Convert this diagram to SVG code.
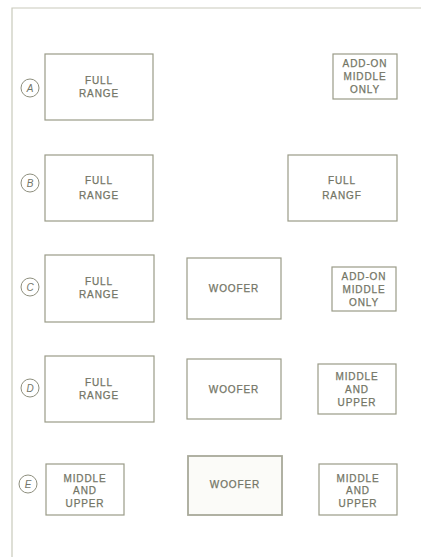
<svg xmlns="http://www.w3.org/2000/svg" width="421" height="557" viewBox="0 0 421 557">
<style>
.box{fill:none;stroke:#9a9b88;stroke-width:1.2}
.frame{fill:none;stroke:#c9cabb;stroke-width:1.2}
.t{font-family:"Liberation Sans",Arial,sans-serif;font-size:10px;fill:#737565;stroke:#737565;stroke-width:0.25;text-anchor:middle;letter-spacing:0.9px}
.lbl{fill:none;stroke:#8e8f7e;stroke-width:1}
.lt{font-family:"Liberation Sans",Arial,sans-serif;font-size:10px;font-style:italic;fill:#74766a;text-anchor:middle}
</style>
<rect width="421" height="557" fill="#fff"/>
<g id="frame"><path class="frame" d="M12,557 V8 H421"/></g>
<g id="connectors"></g>
<g id="rowA">
<g id="labelA"><circle class="lbl" cx="30" cy="88" r="9"/><text class="lt" x="30" y="91.5">A</text></g>
<g id="A1"><rect class="box" x="45" y="54" width="108" height="66"/><text class="t" x="99" y="84">FULL</text><text class="t" x="99" y="97">RANGE</text></g>
<g id="A3"><rect class="box" x="333" y="54" width="64" height="45"/><text class="t" x="365" y="67">ADD-ON</text><text class="t" x="365" y="80">MIDDLE</text><text class="t" x="365" y="93">ONLY</text></g>
</g>
<g id="rowB">
<g id="labelB"><circle class="lbl" cx="30" cy="183" r="9"/><text class="lt" x="30" y="186.5">B</text></g>
<g id="B1"><rect class="box" x="45" y="155" width="108" height="66"/><text class="t" x="99" y="184">FULL</text><text class="t" x="99" y="199">RANGE</text></g>
<g id="B3"><rect class="box" x="288" y="155" width="109" height="66"/><text class="t" x="342" y="184">FULL</text><text class="t" x="342" y="199">RANGF</text></g>
</g>
<g id="rowC">
<g id="labelC"><circle class="lbl" cx="30" cy="287" r="9"/><text class="lt" x="30" y="290.5">C</text></g>
<g id="C1"><rect class="box" x="45" y="255" width="109" height="67"/><text class="t" x="99" y="285">FULL</text><text class="t" x="99" y="298">RANGE</text></g>
<g id="C2"><rect class="box" x="187" y="258" width="94" height="61"/><text class="t" x="234" y="292">WOOFER</text></g>
<g id="C3"><rect class="box" x="332" y="267" width="64" height="44"/><text class="t" x="364" y="280">ADD-ON</text><text class="t" x="364" y="293">MIDDLE</text><text class="t" x="364" y="306">ONLY</text></g>
</g>
<g id="rowD">
<g id="labelD"><circle class="lbl" cx="30" cy="388" r="9"/><text class="lt" x="30" y="391.5">D</text></g>
<g id="D1"><rect class="box" x="45" y="356" width="109" height="66"/><text class="t" x="99" y="386">FULL</text><text class="t" x="99" y="399">RANGE</text></g>
<g id="D2"><rect class="box" x="187" y="359" width="94" height="60"/><text class="t" x="234" y="393">WOOFER</text></g>
<g id="D3"><rect class="box" x="318" y="364" width="78" height="50"/><text class="t" x="357" y="380">MIDDLE</text><text class="t" x="357" y="393">AND</text><text class="t" x="357" y="406">UPPER</text></g>
</g>
<g id="rowE">
<g id="labelE"><circle class="lbl" cx="28" cy="484" r="9"/><text class="lt" x="28" y="487.5">E</text></g>
<g id="E1"><rect class="box" x="46" y="464" width="78" height="51"/><text class="t" x="85" y="482">MIDDLE</text><text class="t" x="85" y="494">AND</text><text class="t" x="85" y="507">UPPER</text></g>
<g id="E2"><rect class="box" x="188" y="456" width="94" height="59" style="fill:#fbfbf8;stroke:#a8a99a;stroke-width:1.8"/><text class="t" x="235" y="488">WOOFER</text></g>
<g id="E3"><rect class="box" x="319" y="464" width="78" height="51"/><text class="t" x="358" y="482">MIDDLE</text><text class="t" x="358" y="494">AND</text><text class="t" x="358" y="507">UPPER</text></g>
</g>
</svg>
